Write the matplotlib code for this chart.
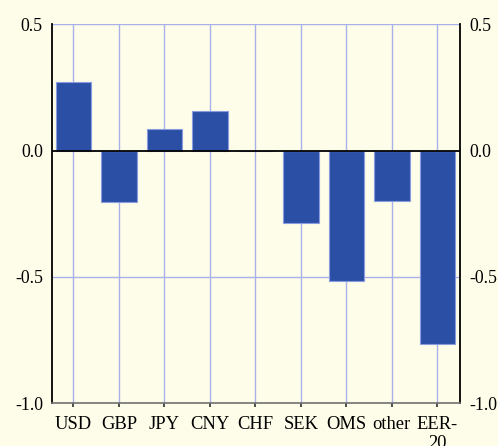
import matplotlib
matplotlib.use("Agg")
import matplotlib.pyplot as plt

# values
currencies = ["USD", "GBP", "JPY", "CNY", "CHF", "SEK", "OMS", "other", "EER-\n20"]
values = [0.273, -0.203, 0.085, 0.157, 0.0, -0.288, -0.517, -0.2, -0.768]
yticks = [0.5, 0.0, -0.5, -1.0]
ytick_labels = ["0.5", "0.0", "-0.5", "-1.0"]

bg = "#FEFDE9"
bar_col = "#2C4FA6"
grid_col = "#A9B0EA"

plt.rcParams["font.family"] = ["Liberation Serif", "DejaVu Serif"]

fig = plt.figure(figsize=(4.98, 4.46), dpi=100, facecolor=bg)
ax = fig.add_axes([0.1044, 0.0964, 0.8193, 0.8491], facecolor=bg)

x = list(range(len(currencies)))
ax.bar(x, values, width=0.78, color=bar_col, edgecolor="#8A9CE0", linewidth=0.8, zorder=3)

ax.set_xlim(-0.47, 8.5)
ax.set_ylim(-1.0, 0.5)

# grid
for xi in x:
    ax.axvline(xi, color=grid_col, linewidth=1.0, zorder=1)
for yv in [0.5, -0.5]:
    ax.axhline(yv, color=grid_col, linewidth=1.0, zorder=1)
ax.axhline(0, color="black", linewidth=1.3, zorder=4)

ax.set_xticks(x)
ax.set_xticklabels(currencies, fontsize=13.3, linespacing=1.2, va="top")
ax.set_yticks(yticks)
ax.set_yticklabels(ytick_labels, fontsize=12.8)
ax.tick_params(axis="x", direction="out", length=3, width=1.2, color="#303030", pad=6)
ax.tick_params(axis="y", length=0, pad=6.5, labelright=True, labelleft=True)

ax.spines["top"].set_visible(False)
ax.spines["left"].set_color("black")
ax.spines["left"].set_linewidth(1.3)
ax.spines["right"].set_color("black")
ax.spines["right"].set_linewidth(1.3)
ax.spines["bottom"].set_color("#707070")
ax.spines["bottom"].set_linewidth(1.2)

fig.savefig("out.png", dpi=100, facecolor=bg)
